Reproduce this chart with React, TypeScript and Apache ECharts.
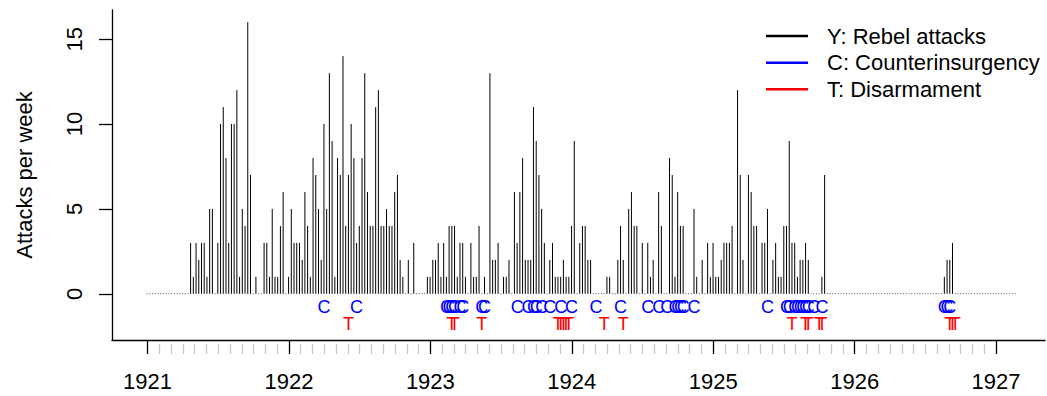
import React, { useEffect, useRef } from "react";
import * as echarts from "echarts";

// Weekly series: first week date (decimal year) and week length (years)
const START_YEAR = 1920.997;
const WEEK_STEP = 0.01924;

// Rebel attacks per week, one value per week starting at START_YEAR
const attacks: number[] = [
  0, 0, 0, 0, 0, 0, 0, 0, 0, 0, 0, 0, 0, 0, 0, 0,
  3, 1, 3, 2, 3, 3, 1, 5, 5, 0,
  3, 10, 11, 8, 3, 10, 10, 12, 1, 5,
  4, 16, 7, 0, 1, 0, 0, 3, 3, 1,
  5, 1, 1, 4, 6, 0, 1, 5, 3, 3,
  3, 2, 6, 4, 1, 8, 7, 5, 2, 10,
  5, 13, 9, 1, 8, 7, 14, 4, 7, 10,
  8, 3, 4, 8, 13, 6, 4, 4, 11, 12,
  4, 4, 5, 4, 4, 6, 7, 2, 1, 0,
  2, 0, 3, 0, 0, 0, 0, 1, 1, 2,
  2, 3, 1, 3, 1, 4, 4, 4, 1, 3,
  3, 1, 0, 3, 1, 1, 4, 0, 1, 0,
  13, 2, 2, 3, 0, 1, 1, 2, 0, 6,
  3, 6, 8, 2, 2, 2, 11, 9, 7, 5,
  3, 0, 2, 3, 1, 1, 1, 2, 1, 1,
  4, 9, 0, 3, 4, 4, 2, 2, 0, 0,
  0, 0, 0, 1, 1, 0, 0, 2, 4, 2,
  0, 5, 6, 4, 4, 0, 3, 0, 3, 1,
  2, 0, 6, 4, 0, 0, 8, 7, 1, 6,
  4, 4, 0, 0, 0, 5, 1, 0, 2, 0,
  3, 1, 3, 1, 1, 2, 3, 3, 3, 4,
  0, 12, 7, 2, 0, 7, 6, 4, 4, 0,
  3, 3, 5, 0, 2, 3, 1, 1, 4, 4,
  9, 3, 3, 1, 2, 2, 3, 2, 0, 0,
  0, 0, 1, 7, 0, 0, 0, 0, 0, 0,
  0, 0, 0, 0, 0, 0, 0, 0, 0, 0,
  0, 0, 0, 0, 0, 0, 0, 0, 0, 0,
  0, 0, 0, 0, 0, 0, 0, 0, 0, 0,
  0, 0, 0, 0, 0, 0, 0, 1, 2, 2,
  3, 0, 0, 0, 0, 0, 0, 0, 0, 0,
  0, 0, 0, 0, 0, 0, 0, 0, 0, 0,
  0, 0, 0, 0,
];

// Weeks (index into the weekly series) with counterinsurgency events
const counterWeeks: number[] = [
  65, 77, 110, 111, 112, 113, 115, 116, 123, 124, 136, 140, 142, 143, 145, 148,
  152, 156, 165, 174, 184, 188, 191, 194, 195, 196, 197, 201, 228, 235, 236,
  238, 239, 240, 241, 242, 243, 245, 248, 293, 294, 295,
];
// Weeks with disarmament events
const disarmWeeks: number[] = [
  74, 112, 113, 123, 151, 152, 153, 154, 155, 168, 175, 237, 242, 243, 247, 248,
  295, 296, 297,
];

const yearTicks: number[] = [1921, 1922, 1923, 1924, 1925, 1926, 1927];
const yTicks: number[] = [0, 5, 10, 15];
const seriesNames: string[] = ["Y: Rebel attacks", "C: Counterinsurgency", "T: Disarmament"];
const seriesColors: string[] = ["#000000", "#0000ff", "#ff0000"];
const C_LEVEL = -1;
const T_LEVEL = -2;

const FONT = "'Liberation Sans', Arial, Helvetica, sans-serif";
const FS = 22;

export default function App() {
  const ref = useRef<HTMLDivElement>(null);
  useEffect(() => {
    const chart = echarts.init(ref.current as HTMLDivElement, null, { renderer: "svg" });
    const weekDate = (j: number) => START_YEAR + j * WEEK_STEP;
    const barData = attacks.map((v, j) => [weekDate(j), v]);
    const cData = counterWeeks.map((j) => [weekDate(j), C_LEVEL]);
    const tData = disarmWeeks.map((j) => [weekDate(j), T_LEVEL]);
    const minorTicks: number[] = [];
    for (let i = 0; i < yearTicks.length - 1; i++) {
      for (let m = 1; m < 12; m++) minorTicks.push(yearTicks[i] + m / 12);
    }

    const markerRender = (letter: string, color: string) => (params: any, api: any) => {
      const p = api.coord([api.value(0), api.value(1)]);
      return {
        type: "text",
        x: p[0],
        y: p[1] - 3.6,
        style: {
          text: letter,
          fill: color,
          fontSize: 18,
          fontFamily: FONT,
          align: "center",
          verticalAlign: "middle",
        },
      };
    };

    // Legend drawn as graphic: line key + label per series
    const legendRowsY = [36, 62.7, 89.3];
    const legendChildren: any[] = [];
    seriesNames.forEach((name, i) => {
      legendChildren.push({
        type: "line",
        shape: { x1: 766, y1: legendRowsY[i], x2: 808, y2: legendRowsY[i] },
        style: { stroke: seriesColors[i], lineWidth: 2.6 },
      });
      legendChildren.push({
        type: "text",
        x: 827,
        y: legendRowsY[i],
        style: {
          text: name,
          fill: "#000",
          fontSize: FS,
          fontFamily: FONT,
          align: "left",
          verticalAlign: "middle",
        },
      });
    });

    chart.setOption({
      animation: false,
      textStyle: { fontFamily: FONT },
      grid: { left: 112, right: 2, top: 10, bottom: 56, containLabel: false },
      graphic: [{ type: "group", children: legendChildren }],
      xAxis: [
        {
          type: "value",
          min: 1920.749,
          max: 1927.346,
          splitLine: { show: false },
          axisLine: { show: true, onZero: false, lineStyle: { color: "#000", width: 1.3 } },
          axisTick: { show: true, customValues: yearTicks, length: 14, lineStyle: { color: "#000", width: 1.3 } },
          axisLabel: {
            customValues: yearTicks,
            formatter: (v: number) => String(v),
            fontSize: FS,
            color: "#000",
            margin: 30,
            fontFamily: FONT,
          },
        },
        {
          type: "value",
          position: "bottom",
          offset: 4,
          min: 1920.749,
          max: 1927.346,
          splitLine: { show: false },
          axisLine: { show: false, onZero: false },
          axisTick: { show: true, customValues: minorTicks, length: 10, lineStyle: { color: "#c8c8c8", width: 1.3 } },
          axisLabel: { show: false },
        },
      ],
      yAxis: {
        type: "value",
        min: -2.72,
        max: 16.72,
        name: "Attacks per week",
        nameLocation: "middle",
        nameRotate: 90,
        nameGap: 77,
        nameTextStyle: { fontSize: FS, color: "#000", fontFamily: FONT },
        splitLine: { show: false },
        axisLine: { show: true, onZero: false, lineStyle: { color: "#000", width: 1.3 } },
        axisTick: { show: true, customValues: yTicks, length: 13, lineStyle: { color: "#000", width: 1.3 } },
        axisLabel: {
          customValues: yTicks,
          rotate: 90,
          fontSize: FS,
          color: "#000",
          margin: 27,
          fontFamily: FONT,
        },
      },
      series: [
        {
          name: seriesNames[0],
          type: "custom",
          xAxisIndex: 0,
          itemStyle: { color: seriesColors[0] },
          data: barData,
          renderItem: (params: any, api: any) => {
            const x = api.value(0);
            const v = api.value(1);
            const p0 = api.coord([x, 0]);
            if (v === 0) {
              return {
                type: "rect",
                shape: { x: p0[0] - 0.5, y: p0[1] - 0.5, width: 1, height: 1 },
                style: { fill: "#555" },
              };
            }
            const p1 = api.coord([x, v]);
            return {
              type: "line",
              shape: { x1: p0[0], y1: p0[1], x2: p1[0], y2: p1[1] },
              style: { stroke: "#000", lineWidth: 1 },
            };
          },
        },
        {
          name: seriesNames[1],
          type: "custom",
          xAxisIndex: 0,
          itemStyle: { color: seriesColors[1] },
          data: cData,
          renderItem: markerRender("C", seriesColors[1]),
        },
        {
          name: seriesNames[2],
          type: "custom",
          xAxisIndex: 0,
          itemStyle: { color: seriesColors[2] },
          data: tData,
          renderItem: markerRender("T", seriesColors[2]),
        },
      ],
    });
    return () => chart.dispose();
  }, []);
  return <div ref={ref} style={{ position: "absolute", left: 0, top: 0, width: 1047, height: 396 }} />;
}
